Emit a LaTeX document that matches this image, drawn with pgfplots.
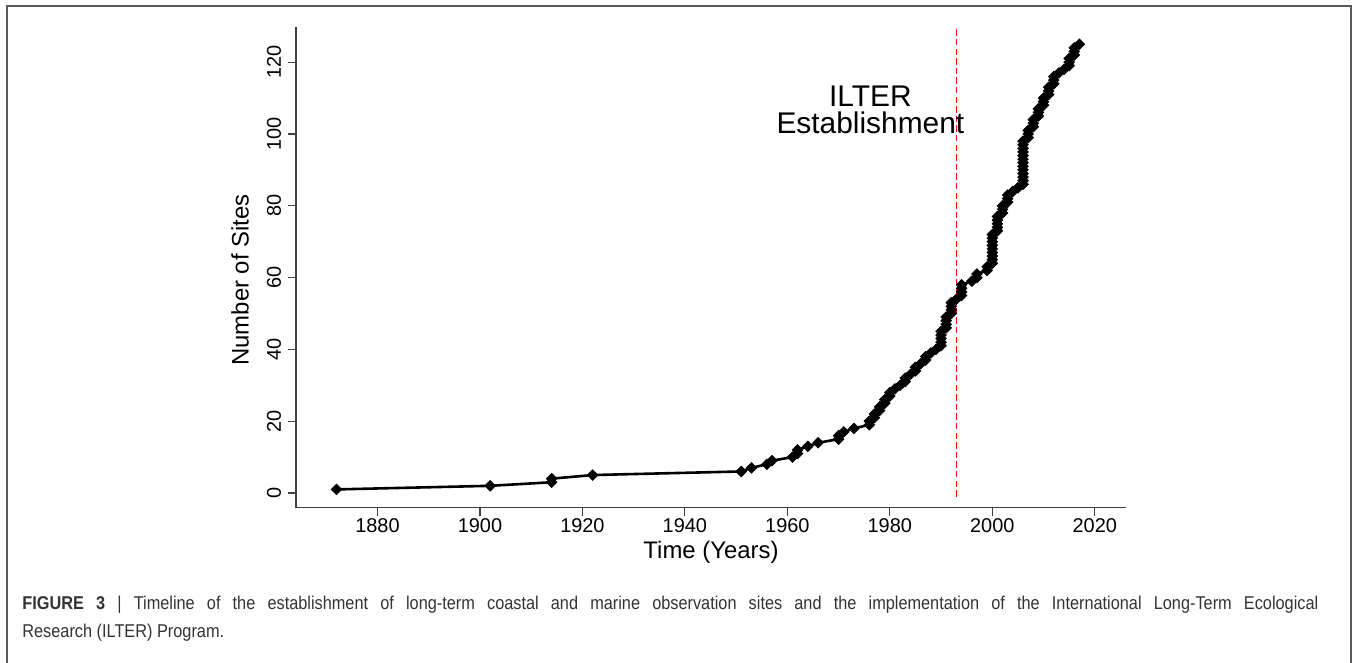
\documentclass[border=0pt]{standalone}
\usepackage{fontspec}
\setmainfont{Liberation Sans}
\newfontfamily\capfont{Liberation Sans}[FakeStretch=0.88]
\usepackage{pgfplots}
\pgfplotsset{compat=1.18}
\begin{document}
\begin{tikzpicture}[x=1bp,y=1bp]
\path[use as bounding box] (0,0) rectangle (680,331);
\draw[black!65, line width=0.7bp] (3.5,-2) -- (3.5,328) -- (675.5,328) -- (675.5,-2);
\begin{axis}[
  at={(148bp,77.25bp)}, anchor=south west,
  scale only axis, width=415bp, height=240.25bp,
  xmin=1864.1, xmax=2026.1, ymin=-4.04, ymax=129.8,
  axis x line*=bottom, axis y line*=left,
  axis line style={black!75, line width=0.6bp, -},
  tick align=outside, major tick length=4bp,
  tick style={black!75, line width=0.6bp},
  xtick={1880,1900,...,2020}, ytick={0,20,...,120},
  minor tick num=0,
  /pgf/number format/assume math mode=true,
  /pgf/number format/1000 sep={},
  every tick label/.append style={font=\fontsize{10}{12}\selectfont},
  xticklabel style={inner sep=1.5bp},
  yticklabel style={rotate=90, anchor=south},
  xlabel={Time (Years)}, ylabel={Number of Sites},
  every axis label/.append style={font=\fontsize{12}{14}\selectfont},
  xlabel style={at={(axis description cs:0.5,-0.0926)}, anchor=center},
  ylabel style={at={(axis description cs:-0.0675,0.4735)}, anchor=center},
  clip=false,
]
\addplot[red, line width=0.9bp, dash pattern=on 3.2bp off 1.6bp] coordinates {(1993,-1) (1993,129.8)};
\addplot[black, line width=1.3bp, mark=square*, mark size=1.9bp,
  mark options={rotate=45, solid, fill=black, line width=0.3bp}] coordinates {
(1872,1) (1902,2) (1914,3) (1914,4) (1922,5) (1951,6) (1953,7) (1956,8) (1957,9)
(1961,10) (1962,11) (1962,12) (1964,13) (1966,14) (1970,15) (1970,16) (1971,17)
(1973,18) (1976,19) (1976,20) (1977,21) (1977,22) (1978,23) (1978,24) (1979,25)
(1979,26) (1980,27) (1980,28) (1981,29) (1982,30) (1983,31) (1983,32) (1984,33)
(1985,34) (1985,35) (1986,36) (1987,37) (1987,38) (1988,39) (1989,40) (1990,41)
(1990,42) (1990,43) (1990,44) (1990,45) (1991,46) (1991,47) (1991,48) (1991,49)
(1992,50) (1992,51) (1992,52) (1992,53) (1993,54) (1994,55) (1994,56) (1994,57)
(1994,58) (1996,59) (1997,60) (1997,61) (1999,62) (1999,63) (2000,64) (2000,65)
(2000,66) (2000,67) (2000,68) (2000,69) (2000,70) (2000,71) (2000,72) (2001,73)
(2001,74) (2001,75) (2001,76) (2001,77) (2002,78) (2002,79) (2002,80) (2003,81)
(2003,82) (2003,83) (2004,84) (2005,85) (2006,86) (2006,87) (2006,88) (2006,89)
(2006,90) (2006,91) (2006,92) (2006,93) (2006,94) (2006,95) (2006,96) (2006,97)
(2006,98) (2007,99) (2007,100) (2007,101) (2008,102) (2008,103) (2008,104)
(2009,105) (2009,106) (2009,107) (2010,108) (2010,109) (2010,110) (2011,111)
(2011,112) (2011,113) (2012,114) (2012,115) (2012,116) (2013,117) (2014,118)
(2015,119) (2015,120) (2015,121) (2016,122) (2016,123) (2016,124) (2017,125)
};
\node[anchor=south, inner sep=0, align=center, font=\fontsize{15}{13.8}\selectfont] at (axis cs:1976.2,99.9) {ILTER\\Establishment};
\end{axis}
\node[anchor=base west, inner sep=0, text=black!80, font=\capfont\fontsize{9.3}{10}\selectfont] at (11,26.5)
  {\makebox[648bp][s]{\textbf{FIGURE 3} | Timeline of the establishment of long-term coastal and marine observation sites and the implementation of the International Long-Term Ecological}};
\node[anchor=base west, inner sep=0, text=black!80, font=\capfont\fontsize{9.3}{10}\selectfont] at (11,12.5)
  {Research (ILTER) Program.};
\end{tikzpicture}
\end{document}
